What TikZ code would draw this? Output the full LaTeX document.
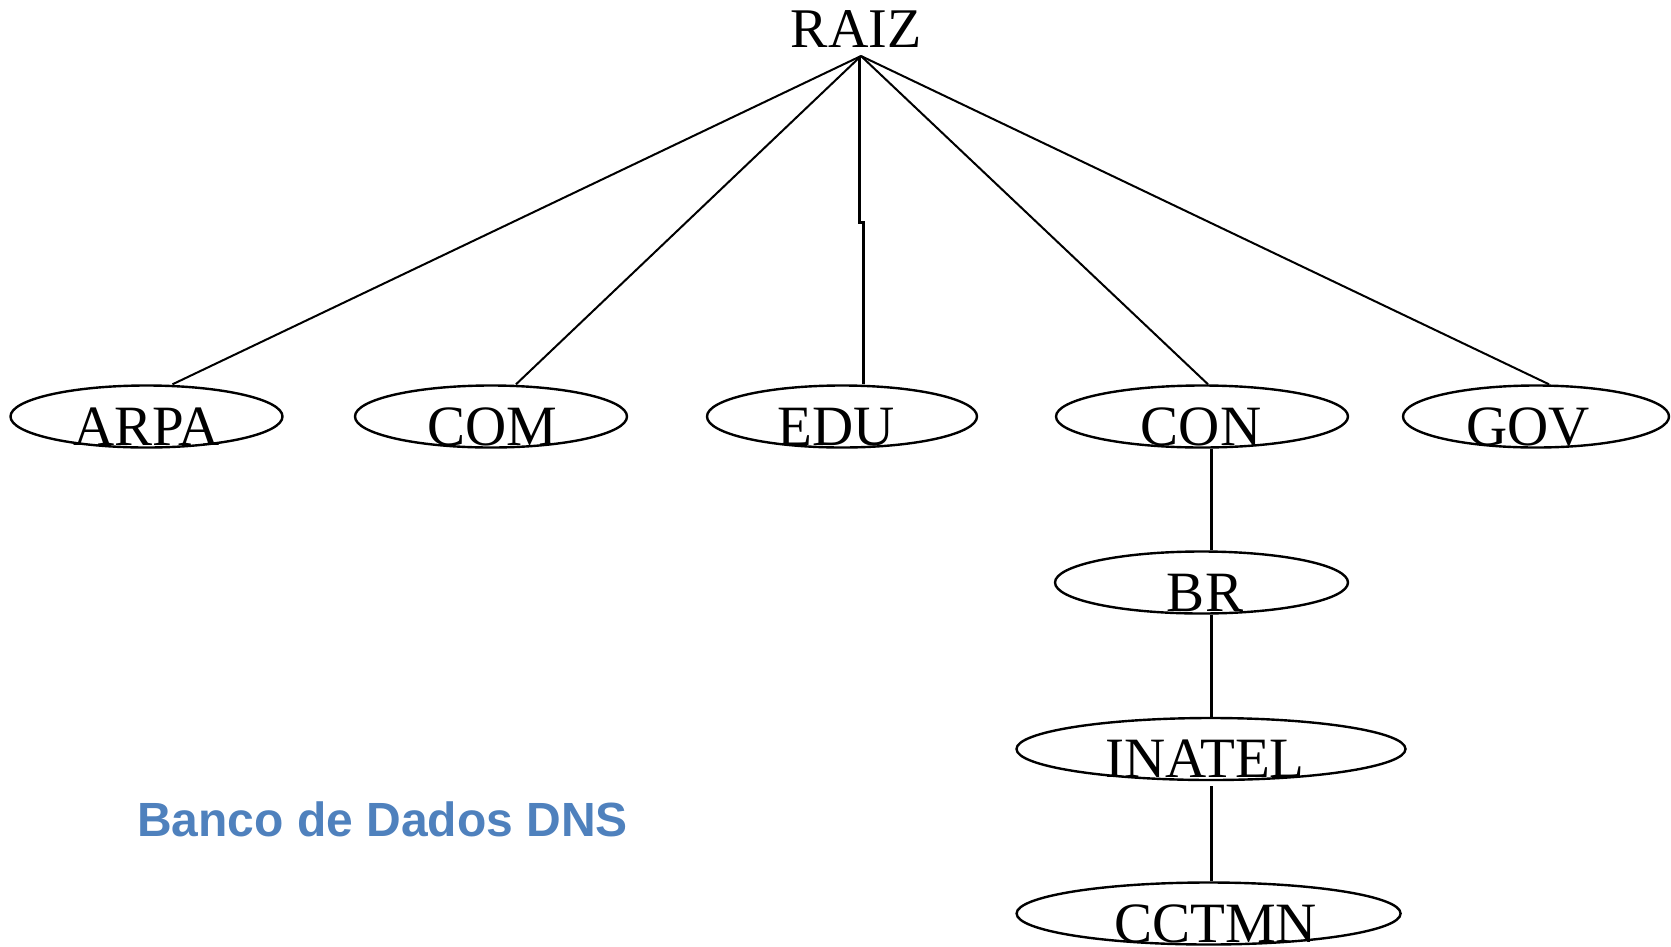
\documentclass[tikz,border=0pt]{standalone}
\usepackage{fontspec}
\setmainfont{Liberation Serif}
\newfontfamily\bannerfont{Liberation Sans}
\usetikzlibrary{shapes.geometric}
\definecolor{dnsblue}{HTML}{4F81BD}
\begin{document}
\begin{tikzpicture}[x=1pt,y=-1pt,
  el/.style={ellipse, draw, line width=2.4pt, minimum height=62pt, inner sep=0pt},
  lab/.style={anchor=base, inner sep=0pt, font=\fontsize{57}{60}\selectfont},
  edge/.style={line width=2pt},
  vedge/.style={line width=3pt}]
\useasboundingbox (0,0) rectangle (1671,946);
\node[lab, font=\fontsize{56}{60}\selectfont] (raiz) at (856,47) {RAIZ};
\coordinate (apex) at (861,56);
% first level
\node[el, minimum width=272pt] (arpa) at (146.5,416.5) {};
\node[el, minimum width=272pt] (com) at (491,416.5) {};
\node[el, minimum width=270pt] (edu) at (842,416.5) {};
\node[el, minimum width=292pt] (con) at (1202,416.5) {};
\node[el, minimum width=266pt] (gov) at (1536,416.5) {};
% chain
\node[el, minimum width=293pt] (br) at (1201.5,582.5) {};
\node[el, minimum width=389pt] (inatel) at (1211,749) {};
\node[el, minimum width=384pt] (cctmn) at (1208.6,913.5) {};
% labels
\node[lab] (arpaT) at ([yshift=-29pt]arpa.center) {ARPA};
\node[lab] (comT) at ([xshift=1pt,yshift=-29pt]com.center) {COM};
\node[lab] (eduT) at ([xshift=-6pt,yshift=-29pt]edu.center) {EDU};
\node[lab] (conT) at ([xshift=-1pt,yshift=-29pt]con.center) {CON};
\node[lab] (govT) at ([xshift=-8pt,yshift=-29pt]gov.center) {GOV};
\node[lab] (brT) at ([xshift=3.5pt,yshift=-29pt]br.center) {BR};
\node[lab] (inatelT) at ([xshift=-6pt,yshift=-28pt]inatel.center) {INATEL};
\node[lab] (cctmnT) at ([xshift=7pt,yshift=-29pt]cctmn.center) {CCTMN};
% edges from root
\draw[edge] (apex) -- ([xshift=26pt]arpa.north);
\draw[edge] (apex) -- ([xshift=25pt]com.north);
\draw[vedge] ([xshift=-2pt]apex) -- ++(0,166) -| ([xshift=21pt]edu.north);
\draw[edge] (apex) -- ([xshift=6pt]con.north);
\draw[edge] (apex) -- ([xshift=13pt]gov.north);
% chain edges
\draw[vedge] (con.south -| inatel) -- (br.north -| inatel);
\draw[vedge] (br.south -| inatel) -- (inatel.north);
\draw[vedge] ([yshift=-5pt]inatel.south) -- (cctmn.north -| inatel);
% title
\node[anchor=base west, inner sep=0pt, font=\bannerfont\bfseries\fontsize{48}{50}\selectfont, text=dnsblue] (title) at (137,836.5) {Banco de Dados DNS};
\end{tikzpicture}
\end{document}
